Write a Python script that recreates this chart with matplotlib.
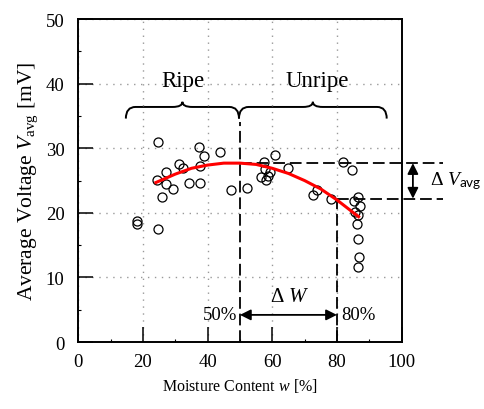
import numpy as np
import matplotlib.pyplot as plt
from matplotlib.path import Path
from matplotlib.patches import PathPatch

plt.rcParams['font.family'] = ['Liberation Serif', 'DejaVu Serif']
plt.rcParams['mathtext.fontset'] = 'custom'
plt.rcParams['mathtext.rm'] = 'Liberation Serif'
plt.rcParams['mathtext.it'] = 'Liberation Serif:italic'
plt.rcParams['mathtext.sf'] = 'Lato'

# ============================================================
# DATA
# ============================================================

moisture = [18.2, 18.2, 24.5, 24.2, 24.7, 25.9, 27.0, 27.0, 29.4, 31.2,
            32.3, 34.1, 37.4, 37.6, 37.7, 38.9, 43.8, 47.3,
            52.2, 56.5, 57.5, 57.8, 58.2, 58.8, 59.3, 60.8, 64.9,
            72.7, 73.7, 78.3, 81.9, 84.8,
            86.5, 85.2, 87.0, 85.6, 86.6, 86.3, 86.6, 86.7, 86.4]
voltage = [18.8, 18.2, 31.0, 25.1, 17.5, 22.4, 26.4, 24.5, 23.7, 27.5,
           27.0, 24.7, 30.2, 27.2, 24.7, 28.8, 29.4, 23.5,
           23.9, 25.5, 27.8, 26.8, 25.1, 25.7, 26.3, 29.0, 27.0,
           22.7, 23.6, 22.2, 27.8, 26.6,
           22.5, 21.8, 21.0, 20.2, 19.6, 18.2, 15.9, 13.2, 11.6]

# fitted curve
fit_w = [24, 30, 35, 40, 45, 50, 55, 60, 65, 70, 75, 80, 86.7]
fit_v = [24.7, 26.0, 26.9, 27.4, 27.7, 27.7, 27.5, 26.9, 26.1, 25.0, 23.7, 22.0, 19.4]

v_top = 27.7
v_low = 22.2
w_left = 50
w_right = 80


def draw_brace(ax, x0, x1, y_end, y_body, y_tip, r):
    xm = (x0 + x1) / 2
    verts = [(x0, y_end), (x0, y_body), (x0 + r, y_body),
             (xm - r, y_body),
             (xm, y_body), (xm, y_tip),
             (xm, y_body), (xm + r, y_body),
             (x1 - r, y_body),
             (x1, y_body), (x1, y_end)]
    codes = [Path.MOVETO, Path.CURVE3, Path.CURVE3,
             Path.LINETO,
             Path.CURVE3, Path.CURVE3,
             Path.CURVE3, Path.CURVE3,
             Path.LINETO,
             Path.CURVE3, Path.CURVE3]
    ax.add_patch(PathPatch(Path(verts, codes), fill=False, lw=1.4,
                           color='black', clip_on=False))


fig = plt.figure(figsize=(4.85, 4.10), dpi=100)
ax = fig.add_axes([0.1615, 0.1634, 0.6665, 0.7875])

ax.set_xlim(0, 100)
ax.set_ylim(0, 50)
ax.set_xticks([0, 20, 40, 60, 80, 100])
ax.set_yticks([0, 10, 20, 30, 40, 50])
ax.set_xticks(np.arange(10, 100, 20), minor=True)
ax.set_yticks(np.arange(5, 50, 10), minor=True)
ax.tick_params(which='major', direction='in', length=11, width=1.1,
               labelsize=13.5)
ax.tick_params(axis='x', which='major', pad=8)
ax.tick_params(axis='y', which='major', pad=10)
ax.tick_params(which='minor', direction='in', length=2.5, width=0.8)
for s in ax.spines.values():
    s.set_linewidth(1.4)

ax.grid(which='major', color='0.6', linestyle=(0, (1, 4)), lw=1)

dash = (0, (6.5, 2.7))
ax.plot([w_left, w_left], [0, 34.0], color='black', lw=1.3, ls=dash)
ax.plot([w_right, w_right], [0, v_low], color='black', lw=1.3, ls=dash)
ax.plot([w_left, 112.8], [v_top, v_top], color='black', lw=1.3, ls=dash, clip_on=False)
ax.plot([w_right, 112.8], [v_low, v_low], color='black', lw=1.3, ls=dash, clip_on=False)

ax.plot(moisture, voltage, 'o', mfc='none', mec='black', mew=0.9, ms=6.5, zorder=3)
ax.plot(fit_w, fit_v, color='red', lw=2.2, zorder=4)

# braces
draw_brace(ax, 14.7, 49.7, 34.6, 36.4, 37.2, 3.0)
draw_brace(ax, 49.7, 95.4, 34.6, 36.4, 37.2, 3.0)
ax.text(32.2, 40.5, 'Ripe', fontsize=16.5, ha='center', va='center')
ax.text(74.0, 40.5, 'Unripe', fontsize=16.5, ha='center', va='center')

# delta V
ax.annotate('', xy=(103.5, v_low), xytext=(103.5, v_top),
            arrowprops=dict(arrowstyle='<|-|>', color='black', lw=1.3,
                            mutation_scale=16, shrinkA=0, shrinkB=0),
            annotation_clip=False)
ax.text(108.8, 25.0, r'$\Delta\ V_{\mathsf{avg}}$', fontsize=14,
        ha='left', va='center', clip_on=False)

# delta W
ax.annotate('', xy=(w_left, 4.2), xytext=(w_right, 4.2),
            arrowprops=dict(arrowstyle='<|-|>', color='black', lw=1.3,
                            mutation_scale=16, shrinkA=0, shrinkB=0))
ax.text(65.5, 7.0, r'$\Delta\ W$', fontsize=15, ha='center', va='center')
ax.text(49.3, 4.2, '50%', fontsize=13.5, ha='right', va='center')
ax.text(81.3, 4.2, '80%', fontsize=13.5, ha='left', va='center')

ax.set_xlabel('Moisture Content $w$ [%]', fontsize=11.5, labelpad=4)
ax.set_ylabel(r'Average Voltage $V_{\mathrm{avg}}$ [mV]', fontsize=15.5, labelpad=4)

fig.savefig('out.png', dpi=100)
plt.close(fig)
